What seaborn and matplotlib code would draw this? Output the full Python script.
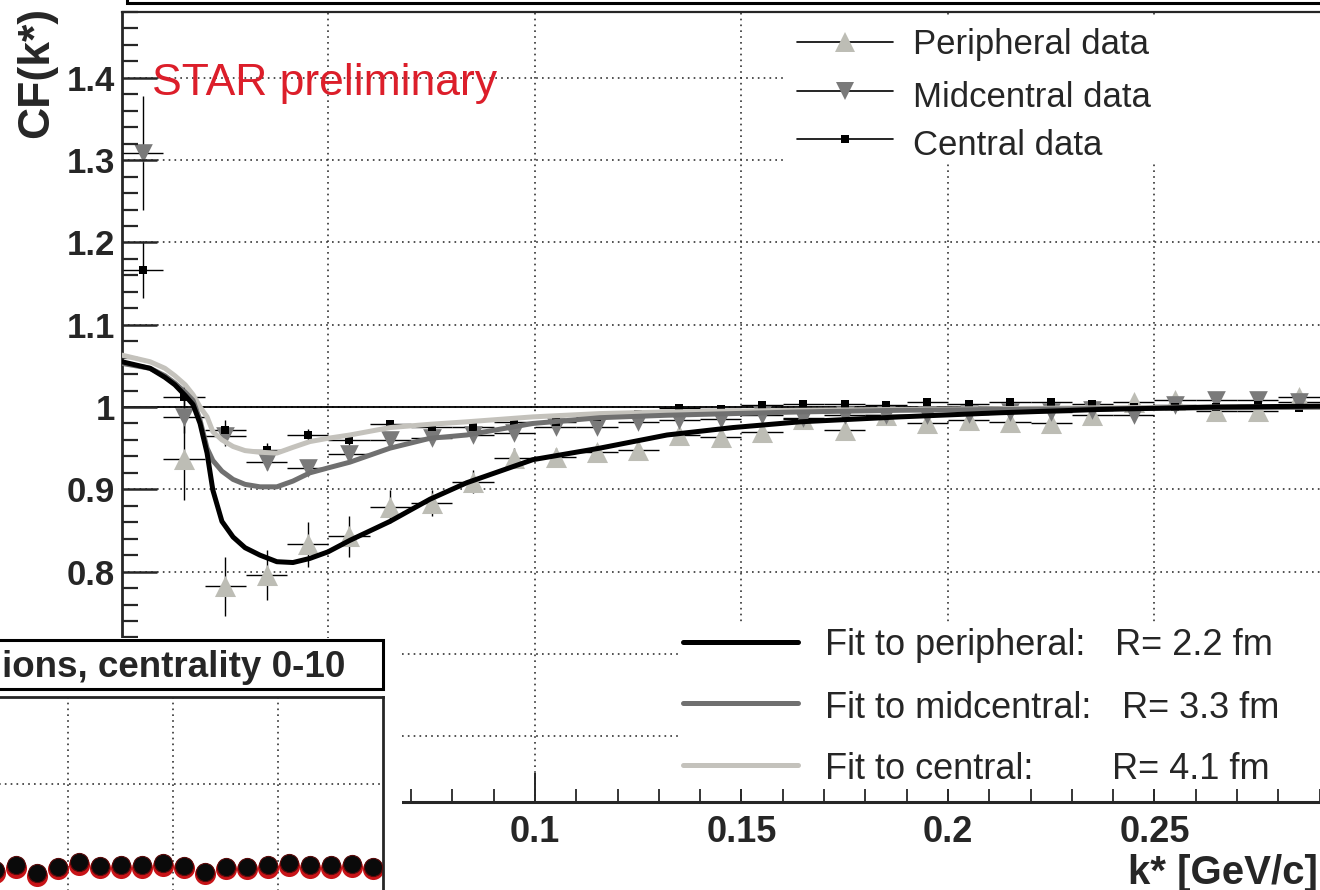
import numpy as np
import pandas as pd
import matplotlib
matplotlib.use("Agg")
import matplotlib.pyplot as plt
from matplotlib.lines import Line2D
from matplotlib.patches import Rectangle
from matplotlib.ticker import MultipleLocator
import seaborn as sns

# ---------------- data ----------------
k_bins = [0.005, 0.015, 0.025, 0.035, 0.045, 0.055, 0.065, 0.075, 0.085, 0.095,
          0.105, 0.115, 0.125, 0.135, 0.145, 0.155, 0.165, 0.175, 0.185, 0.195,
          0.205, 0.215, 0.225, 0.235, 0.245, 0.255, 0.265, 0.275, 0.285]

cf_peripheral = [np.nan, 0.937, 0.782, 0.796, 0.833, 0.843, 0.879, 0.883, 0.909, 0.938,
                 0.939, 0.945, 0.948, 0.966, 0.964, 0.970, 0.986, 0.972, 0.990, 0.980,
                 0.984, 0.982, 0.980, 0.990, 1.006, 1.009, 0.995, 0.995, 1.012]
err_peripheral = [np.nan, 0.050, 0.036, 0.030, 0.027, 0.025, 0.020, 0.016, 0.014, 0.012,
                  0.011, 0.010, 0.010, 0.009, 0.009, 0.008, 0.008, 0.008, 0.007, 0.007,
                  0.007, 0.007, 0.007, 0.006, 0.006, 0.006, 0.006, 0.006, 0.006]

cf_midcentral = [1.309, 0.988, 0.965, 0.933, 0.926, 0.943, 0.960, 0.962, 0.966, 0.968,
                 0.976, 0.976, 0.982, 0.984, 0.986, 0.990, 0.987, 0.990, 0.990, 0.990,
                 0.992, 0.994, 0.994, 0.996, 0.990, 1.002, 1.008, 1.008, 1.006]
err_midcentral = [0.069, 0.020, 0.012, 0.010, 0.009, 0.008, 0.007, 0.006, 0.006, 0.006,
                  0.005, 0.005, 0.005, 0.005, 0.005, 0.005, 0.005, 0.005, 0.005, 0.005,
                  0.005, 0.005, 0.005, 0.005, 0.005, 0.005, 0.005, 0.005, 0.005]

cf_central = [1.167, 1.012, 0.972, 0.948, 0.966, 0.960, 0.979, 0.976, 0.976, 0.982,
              0.982, 0.988, 0.992, 0.999, 0.998, 1.002, 1.004, 1.004, 1.002, 1.006,
              1.004, 1.006, 1.006, 1.004, 1.000, 1.000, 1.000, 1.002, 0.999]
err_central = [0.035, 0.018, 0.012, 0.008, 0.007, 0.006, 0.005, 0.005, 0.005, 0.005,
               0.004, 0.004, 0.004, 0.004, 0.004, 0.004, 0.004, 0.004, 0.004, 0.004,
               0.004, 0.004, 0.004, 0.004, 0.004, 0.004, 0.004, 0.004, 0.004]

fit_k = [0.0, 0.0068, 0.0104, 0.0128, 0.0153, 0.0172, 0.0189, 0.0206, 0.0220, 0.0242,
         0.0269, 0.0298, 0.0334, 0.0375, 0.0414, 0.0455, 0.0499, 0.0552, 0.0649, 0.0746,
         0.0835, 0.0995, 0.1157, 0.1320, 0.1479, 0.1642, 0.1884, 0.2126, 0.2368, 0.2651,
         0.2901]
fit_peripheral = [1.055, 1.047, 1.036, 1.027, 1.014, 1.003, 0.980, 0.944, 0.899, 0.861,
                  0.842, 0.829, 0.820, 0.812, 0.811, 0.816, 0.824, 0.838, 0.861, 0.888,
                  0.908, 0.936, 0.950, 0.966, 0.975, 0.982, 0.988, 0.993, 0.997, 1.000,
                  1.001]
fit_midcentral = [1.053, 1.047, 1.038, 1.029, 1.018, 1.008, 0.984, 0.950, 0.935, 0.922,
                  0.912, 0.906, 0.903, 0.903, 0.910, 0.920, 0.926, 0.933, 0.950, 0.962,
                  0.966, 0.980, 0.987, 0.990, 0.992, 0.994, 0.996, 0.997, 0.998, 0.999,
                  1.000]
fit_central = [1.063, 1.055, 1.047, 1.038, 1.027, 1.015, 1.000, 0.988, 0.970, 0.960,
               0.952, 0.947, 0.945, 0.944, 0.951, 0.958, 0.962, 0.966, 0.975, 0.979,
               0.982, 0.988, 0.992, 0.994, 0.995, 0.996, 0.997, 0.998, 0.999, 1.000,
               1.000]

y_ticks = [0.6, 0.7, 0.8, 0.9, 1.0, 1.1, 1.2, 1.3, 1.4]
y_tick_labels = ["", "", "0.8", "0.9", "1", "1.1", "1.2", "1.3", "1.4"]
x_ticks = [0.05, 0.1, 0.15, 0.2, 0.25]
x_tick_labels = ["", "0.1", "0.15", "0.2", "0.25"]

data_labels = ["Peripheral data", "Midcentral data", "Central data"]
fit_labels = ["Fit to peripheral:", "Fit to midcentral:", "Fit to central:"]
fit_radii = ["R= 2.2 fm", "R= 3.3 fm", "R= 4.1 fm"]

# inset (partly visible second panel)
inset_k = [0.065, 0.075, 0.085, 0.095, 0.105, 0.115, 0.125, 0.135, 0.145, 0.155,
           0.165, 0.175, 0.185, 0.195, 0.205, 0.215, 0.225, 0.235, 0.245]
inset_black = [1.001, 1.007, 0.998, 1.005, 1.010, 1.006, 1.007, 1.007, 1.009, 1.006,
               0.999, 1.005, 1.005, 1.007, 1.009, 1.007, 1.007, 1.008, 1.005]
inset_red = [0.998, 1.004, 0.994, 1.002, 1.007, 1.003, 1.004, 1.004, 1.006, 1.003,
             0.996, 1.002, 1.002, 1.004, 1.006, 1.004, 1.004, 1.005, 1.002]
inset_title = "ions, centrality 0-10"

# ---------------- style ----------------
sns.set_style("white")
plt.rcParams['font.family'] = ['Liberation Sans', 'DejaVu Sans']

C_PER = "#bdbdb5"
C_MID = "#7a7a7a"
C_CEN = "#000000"
F_PER = "#000000"
F_MID = "#707070"
F_CEN = "#c4c2bc"
GRID_LS = (0, (1, 2.5))

W, H = 1320, 890
fig = plt.figure(figsize=(W / 100, H / 100), dpi=100)


def fx(p):
    return p / W


def fy(p):
    return 1 - p / H


ax = fig.add_axes([fx(122), fy(802), fx(1320) - fx(122), fy(12) - fy(802)])
ax.set_xlim(0, 0.2901)
ax.set_ylim(0.52, 1.48)
ax.set_axisbelow(False)

# grid
for yv in y_ticks:
    ax.axhline(yv, ls=GRID_LS, lw=1.2, color="#333333", zorder=0.6)
for xv in x_ticks:
    ax.axvline(xv, ls=GRID_LS, lw=1.2, color="#333333", zorder=0.6)
ax.axhline(1.0, color="black", lw=1.3, zorder=0.9)

# error bars
for vals, errs in [(cf_peripheral, err_peripheral), (cf_midcentral, err_midcentral),
                   (cf_central, err_central)]:
    ax.errorbar(k_bins, vals, xerr=0.005, yerr=errs, fmt="none", ecolor="black",
                elinewidth=1.0, capsize=0, zorder=2.2)

df = pd.DataFrame({"k": k_bins, "per": cf_peripheral, "mid": cf_midcentral, "cen": cf_central})
sns.scatterplot(data=df, x="k", y="per", marker="^", s=230, color=C_PER, linewidth=0,
                ax=ax, zorder=2.5, legend=False)
sns.scatterplot(data=df, x="k", y="mid", marker="v", s=180, color=C_MID, linewidth=0,
                ax=ax, zorder=2.5, legend=False)
sns.scatterplot(data=df, x="k", y="cen", marker="s", s=30, color=C_CEN, linewidth=0,
                ax=ax, zorder=2.6, legend=False)

dfit = pd.DataFrame({"k": fit_k, "per": fit_peripheral, "mid": fit_midcentral, "cen": fit_central})
sns.lineplot(data=dfit, x="k", y="cen", color=F_CEN, lw=3.6, ax=ax, zorder=3, sort=False)
sns.lineplot(data=dfit, x="k", y="mid", color=F_MID, lw=3.6, ax=ax, zorder=3.1, sort=False)
sns.lineplot(data=dfit, x="k", y="per", color=F_PER, lw=3.6, ax=ax, zorder=3.2, sort=False)

# axes cosmetics
ax.set_xlabel("")
ax.set_ylabel("")
ax.spines["right"].set_visible(False)
ax.spines["left"].set_linewidth(2.0)
ax.spines["bottom"].set_linewidth(2.2)
ax.spines["top"].set_linewidth(1.6)
ax.set_yticks(y_ticks)
ax.set_yticklabels(y_tick_labels, fontsize=25, fontweight="bold")
ax.set_xticks(x_ticks)
ax.set_xticklabels(x_tick_labels, fontsize=26, fontweight="bold")
ax.yaxis.set_minor_locator(MultipleLocator(0.02))
ax.xaxis.set_minor_locator(MultipleLocator(0.01))
ax.tick_params(axis="y", which="major", direction="in", length=25, width=1.8, pad=5,
               left=True, right=False)
ax.tick_params(axis="y", which="minor", direction="in", length=11.5, width=1.6,
               left=True, right=False)
ax.tick_params(axis="x", which="major", direction="in", length=21, width=1.4, pad=9,
               bottom=True, top=False)
ax.tick_params(axis="x", which="minor", direction="in", length=9.5, width=1.3,
               bottom=True, top=False)

# white legend backgrounds (figure level, cover grid and tick tops)
fig.add_artist(Rectangle((fx(785), fy(162)), fx(1340) - fx(785), fy(18) - fy(162),
                         transform=fig.transFigure, facecolor="white", edgecolor="none",
                         zorder=1))
fig.add_artist(Rectangle((fx(680), fy(789)), fx(1340) - fx(680), fy(622) - fy(789),
                         transform=fig.transFigure, facecolor="white", edgecolor="none",
                         zorder=1))

# texts
fig.text(fx(37), fy(72), "CF(k*)", rotation=90, ha="center", va="center",
         fontsize=32, fontweight="bold")
fig.text(fx(1318), fy(884), "k* [GeV/c]", ha="right", va="baseline",
         fontsize=29, fontweight="bold")
fig.text(fx(152), fy(95), "STAR preliminary", ha="left", va="baseline",
         fontsize=32, color="#dc1e2a")

# data legend
rows = [42, 91, 139]
base = [54, 107, 155]
mk = [("^", C_PER, 14), ("v", C_MID, 13), ("s", C_CEN, 5.5)]
for yrow, yb, lab, (m, c, ms) in zip(rows, base, data_labels, mk):
    fig.add_artist(Line2D([fx(797), fx(893)], [fy(yrow), fy(yrow)], color="black", lw=1.2,
                          zorder=3))
    fig.add_artist(Line2D([fx(845)], [fy(yrow)], marker=m, color=c, ms=ms, markeredgewidth=0,
                          zorder=3.5))
    fig.text(fx(913), fy(yb), lab, ha="left", va="baseline", fontsize=25, zorder=3)

# fit legend
frows = [642, 703, 765]
fbase = [655, 718, 779]
fcols = [F_PER, F_MID, F_CEN]
rx = [1115, 1122, 1112]
for yrow, yb, lab, rr, c, x_r in zip(frows, fbase, fit_labels, fit_radii, fcols, rx):
    fig.add_artist(Line2D([fx(683), fx(798)], [fy(yrow), fy(yrow)], color=c, lw=3.6,
                          zorder=3))
    fig.text(fx(825), fy(yb), lab, ha="left", va="baseline", fontsize=26, zorder=3)
    fig.text(fx(x_r), fy(yb), rr, ha="left", va="baseline", fontsize=26, zorder=3)

# top border of a box above the plot
fig.add_artist(Rectangle((fx(127), fy(3)), fx(1340) - fx(127), fy(-40) - fy(3),
                         transform=fig.transFigure, facecolor="white", edgecolor="black",
                         lw=2.2, zorder=7))

# inset pad
fig.add_artist(Rectangle((fx(-5), fy(895)), fx(407), fy(638) - fy(895),
                         transform=fig.transFigure, facecolor="white", edgecolor="none",
                         zorder=5))
axi = fig.add_axes([fx(-58), fy(958), fx(441), fy(697) - fy(958)], zorder=6)
axi.set_xlim(0.04, 0.25)
axi.set_ylim(0.9, 1.2)
axi.set_facecolor("white")
for xv in [0.1, 0.15, 0.2]:
    axi.axvline(xv, ls=GRID_LS, lw=1.2, color="#333333", zorder=0.6)
axi.axhline(1.1, ls=GRID_LS, lw=1.2, color="#333333", zorder=0.6)
dfi = pd.DataFrame({"k": inset_k, "black": inset_black, "red": inset_red})
sns.scatterplot(data=dfi, x="k", y="red", marker="o", s=230, color="#c81418",
                linewidth=0, ax=axi, zorder=2, legend=False)
sns.scatterplot(data=dfi, x="k", y="black", marker="o", s=170, color="#0a0a0a",
                edgecolor="#5a0a0a", linewidth=0.8, ax=axi, zorder=3, legend=False)
axi.set_xticks([])
axi.set_yticks([])
axi.set_xlabel("")
axi.set_ylabel("")
for s in ["left", "bottom"]:
    axi.spines[s].set_visible(False)
axi.spines["top"].set_linewidth(2.0)
axi.spines["right"].set_linewidth(2.0)

# inset title box
fig.add_artist(Rectangle((fx(-10), fy(689)), fx(393), fy(640) - fy(689),
                         transform=fig.transFigure, facecolor="white", edgecolor="black",
                         lw=2.2, zorder=7))
fig.text(fx(345), fy(677), inset_title, ha="right", va="baseline", fontsize=26.5,
         fontweight="bold", zorder=8)

fig.savefig("out.png", dpi=100)
